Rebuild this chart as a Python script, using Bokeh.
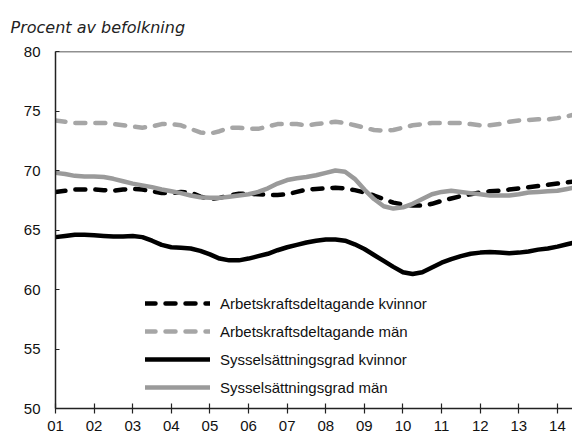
from bokeh.plotting import figure
from bokeh.models import Range1d, Span, FixedTicker, Legend, LegendItem
from bokeh.embed import file_html
from bokeh.resources import INLINE

# quarterly time points 2001.00 ... 2014.50
years = [2001 + 0.25 * k for k in range(55)]

akd_kvinnor = [68.2, 68.3, 68.4, 68.4, 68.4, 68.35, 68.3, 68.4, 68.45, 68.4,
               68.25, 68.1, 68.1, 68.2, 68.15, 67.8, 67.6, 67.7, 67.9, 68.05,
               68.05, 68.0, 67.95, 67.95, 68.0, 68.2, 68.4, 68.45, 68.5, 68.55,
               68.5, 68.35, 68.15, 67.9, 67.6, 67.3, 67.15, 67.05, 67.05, 67.2,
               67.45, 67.65, 67.85, 68.0, 68.15, 68.25, 68.3, 68.4, 68.5, 68.6,
               68.7, 68.8, 68.9, 69.0, 69.1]

akd_man = [74.2, 74.1, 74.0, 74.0, 74.0, 74.0, 73.9, 73.8, 73.7, 73.6,
           73.7, 73.9, 73.9, 73.8, 73.5, 73.2, 73.1, 73.3, 73.6, 73.6,
           73.5, 73.5, 73.7, 73.9, 73.9, 73.9, 73.8, 73.9, 74.0, 74.1,
           74.0, 73.8, 73.6, 73.4, 73.35, 73.4, 73.6, 73.8, 73.9, 74.0,
           74.0, 74.0, 74.0, 73.9, 73.8, 73.8, 73.9, 74.1, 74.2, 74.25,
           74.3, 74.3, 74.4, 74.55, 74.75]

sg_kvinnor = [64.4, 64.5, 64.6, 64.6, 64.55, 64.5, 64.45, 64.45, 64.5, 64.4,
              64.1, 63.75, 63.55, 63.5, 63.45, 63.25, 62.95, 62.6, 62.45, 62.45,
              62.6, 62.8, 63.0, 63.3, 63.55, 63.75, 63.95, 64.1, 64.2, 64.2,
              64.1, 63.8, 63.4, 62.9, 62.4, 61.9, 61.45, 61.3, 61.45, 61.85,
              62.25, 62.55, 62.8, 63.0, 63.1, 63.15, 63.1, 63.05, 63.1, 63.2,
              63.35, 63.45, 63.6, 63.8, 64.0]

sg_man = [69.8, 69.7, 69.55, 69.5, 69.5, 69.45, 69.3, 69.1, 68.9, 68.75,
          68.6, 68.4, 68.25, 68.1, 67.9, 67.75, 67.7, 67.7, 67.8, 67.9,
          68.0, 68.2, 68.5, 68.9, 69.2, 69.35, 69.45, 69.6, 69.8, 70.0,
          69.9, 69.3, 68.4, 67.6, 67.0, 66.8, 66.9, 67.2, 67.6, 68.0,
          68.2, 68.3, 68.2, 68.1, 68.0, 67.9, 67.9, 67.9, 68.0, 68.15,
          68.2, 68.25, 68.3, 68.45, 68.6]

series_names = ["Arbetskraftsdeltagande kvinnor", "Arbetskraftsdeltagande män",
                "Sysselsättningsgrad kvinnor", "Sysselsättningsgrad män"]
tick_years = list(range(2001, 2015))
tick_labels = ["01", "02", "03", "04", "05", "06", "07", "08", "09", "10", "11", "12", "13", "14"]
y_ticks = [50, 55, 60, 65, 70, 75, 80]
title_text = "Procent av befolkning"

FONT = "Liberation Sans"

p = figure(width=572, height=438, output_backend="svg", toolbar_location=None,
           x_range=Range1d(2001, 2014.39), y_range=Range1d(50, 80),
           min_border_left=55, min_border_right=0, min_border_top=51, min_border_bottom=30)
p.outline_line_color = None
p.xgrid.grid_line_color = None
p.ygrid.grid_line_color = None
p.background_fill_color = "white"
p.border_fill_color = "white"

p.title.text = title_text
p.title.align = "left"
p.title.offset = -45
p.title.standoff = 30
p.title.text_font = "DejaVu Sans"
p.title.text_font_style = "italic"
p.title.text_font_size = "16px"
p.title.text_color = "#222222"

styles = [
    dict(color="black", dash="10 10", width=4.5),
    dict(color="#a6a6a6", dash="10 10", width=4.5),
    dict(color="black", dash="solid", width=4.5),
    dict(color="#9a9a9a", dash="solid", width=4.5),
]
data = [akd_kvinnor, akd_man, sg_kvinnor, sg_man]
renderers = []
for vals, st in zip(data, styles):
    r = p.line(years, vals, line_color=st["color"], line_width=st["width"],
               line_dash=st["dash"], line_cap="round", line_join="round")
    renderers.append(r)

legend = Legend(items=[LegendItem(label=n, renderers=[r]) for n, r in zip(series_names, renderers)],
                location=(90, 11), orientation="vertical",
                glyph_width=65, glyph_height=20, label_height=20, spacing=8,
                label_standoff=10, padding=0, margin=0,
                background_fill_alpha=0, border_line_alpha=0,
                label_text_font=FONT, label_text_font_size="15px", label_text_color="#111111")
p.add_layout(legend, "center")

# top border
p.add_layout(Span(location=80, dimension="width", line_color="#222222", line_width=1.5))

p.xaxis.ticker = FixedTicker(ticks=tick_years)
p.xaxis.major_label_overrides = {y: l for y, l in zip(tick_years, tick_labels)}
p.xaxis.minor_tick_line_color = None
p.xaxis.major_tick_in = 5
p.xaxis.major_tick_out = 5
p.xaxis.major_label_standoff = 7
p.yaxis.ticker = FixedTicker(ticks=y_ticks)
p.yaxis.minor_tick_line_color = None
p.yaxis.major_tick_in = 4
p.yaxis.major_tick_out = 0
p.yaxis.major_label_standoff = 15

for ax in (p.xaxis, p.yaxis):
    ax.axis_line_color = "#222222"
    ax.axis_line_width = 1.5
    ax.major_tick_line_color = "#222222"
    ax.major_tick_line_width = 1.2
    ax.major_label_text_font = FONT
    ax.major_label_text_font_size = "15px"
    ax.major_label_text_color = "#111111"

open("out.html", "w").write(file_html(p, INLINE))
